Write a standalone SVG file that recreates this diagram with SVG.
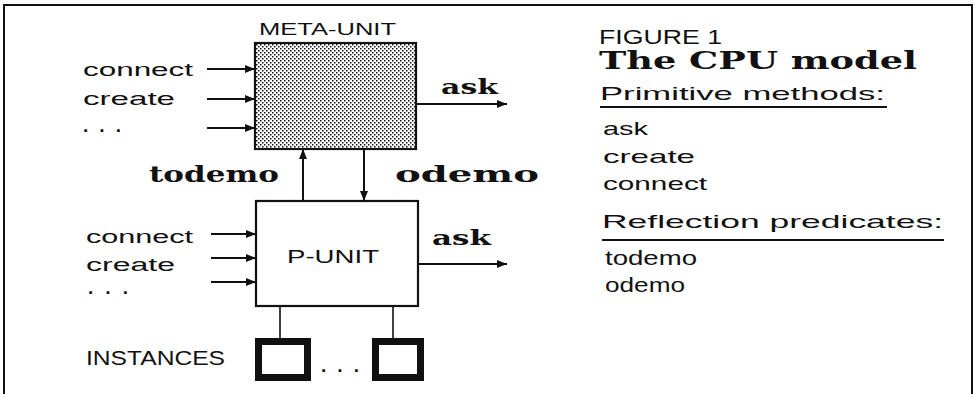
<svg xmlns="http://www.w3.org/2000/svg" width="975" height="394" viewBox="0 0 975 394">
<defs>
  <pattern id="hatch" width="4" height="4" patternUnits="userSpaceOnUse">
    <rect width="4" height="4" fill="#fff"/>
    <rect x="0" y="0" width="1.5" height="1.5" fill="#111"/>
    <rect x="2" y="2" width="1.5" height="1.5" fill="#111"/>
  </pattern>
  <marker id="ah" viewBox="0 0 10 8" refX="10" refY="4" markerWidth="10" markerHeight="8" markerUnits="userSpaceOnUse" orient="auto">
    <path d="M0,0 L10,4 L0,8 z" fill="#111"/>
  </marker>
  <style>
    .frame{stroke:#111;stroke-width:2;fill:none}
    .box{stroke:#111;stroke-width:2.2}
    .inst{stroke:#111;stroke-width:7;fill:#fff}
    .line{stroke:#111;stroke-width:2;fill:none}
    .thin{stroke:#111;stroke-width:1.6;fill:none}
    .arr{stroke:#111;stroke-width:2;fill:none;marker-end:url(#ah)}
    .sans{font-family:"Liberation Sans","DejaVu Sans",sans-serif;fill:#111}
    .dots{font-family:"Liberation Sans","DejaVu Sans",sans-serif;font-weight:bold;fill:#111}
    .bold{font-family:"DejaVu Serif","Liberation Serif",serif;font-weight:bold;fill:#111}
  </style>
</defs>

<g id="frame">
  <path class="frame" d="M4,394 V5 H972 V394"/>
</g>

<g id="meta-unit">
  <rect class="box" x="255" y="43" width="161" height="106" fill="url(#hatch)"/>
  <text class="sans" x="259" y="35" font-size="17" textLength="137" lengthAdjust="spacingAndGlyphs">META-UNIT</text>
</g>

<g id="meta-inputs">
  <text class="sans" x="83" y="76" font-size="18" textLength="110" lengthAdjust="spacingAndGlyphs">connect</text>
  <text class="sans" x="83" y="105" font-size="18" textLength="92" lengthAdjust="spacingAndGlyphs">create</text>
  <text class="dots" x="83" y="132" font-size="19" textLength="38" lengthAdjust="spacing">...</text>
</g>

<g id="meta-ask">
  <text class="bold" x="441" y="94" font-size="21" textLength="57" lengthAdjust="spacingAndGlyphs">ask</text>
</g>

<g id="p-unit">
  <rect class="box" x="256" y="201" width="162" height="105" fill="#fff"/>
  <text class="sans" x="287" y="263" font-size="19" textLength="92" lengthAdjust="spacingAndGlyphs">P-UNIT</text>
</g>

<g id="p-inputs">
  <text class="sans" x="86" y="243" font-size="18" textLength="107" lengthAdjust="spacingAndGlyphs">connect</text>
  <text class="sans" x="86" y="271" font-size="18" textLength="89" lengthAdjust="spacingAndGlyphs">create</text>
  <text class="dots" x="88" y="294" font-size="19" textLength="40" lengthAdjust="spacing">...</text>
</g>

<g id="p-ask">
  <text class="bold" x="432" y="245" font-size="21" textLength="59" lengthAdjust="spacingAndGlyphs">ask</text>
</g>

<g id="todemo-label">
  <text class="bold" x="149" y="182" font-size="23" textLength="130" lengthAdjust="spacingAndGlyphs">todemo</text>
</g>
<g id="odemo-label">
  <text class="bold" x="395" y="182" font-size="23" textLength="144" lengthAdjust="spacingAndGlyphs">odemo</text>
</g>

<g id="instances">
  <text class="sans" x="86" y="365" font-size="20" textLength="139" lengthAdjust="spacingAndGlyphs">INSTANCES</text>
  <rect class="inst" x="258.5" y="341.5" width="49" height="36"/>
  <text class="dots" x="321" y="372" font-size="19" textLength="38" lengthAdjust="spacing">...</text>
  <rect class="inst" x="375.5" y="341.5" width="45" height="36"/>
</g>

<g id="connectors">
  <line class="arr" x1="207" y1="69" x2="255" y2="69"/>
  <line class="arr" x1="207" y1="99" x2="255" y2="99"/>
  <line class="arr" x1="207" y1="128" x2="255" y2="128"/>
  <line class="arr" x1="416" y1="104" x2="507" y2="104"/>
  <line class="arr" x1="303" y1="201" x2="303" y2="149"/>
  <line class="arr" x1="364" y1="149" x2="364" y2="201"/>
  <line class="arr" x1="211" y1="234" x2="256" y2="234"/>
  <line class="arr" x1="211" y1="258" x2="256" y2="258"/>
  <line class="arr" x1="211" y1="282" x2="256" y2="282"/>
  <line class="arr" x1="418" y1="264" x2="507" y2="264"/>
  <line class="thin" x1="280" y1="306" x2="280" y2="338"/>
  <line class="thin" x1="393" y1="306" x2="393" y2="338"/>
</g>

<g id="caption">
  <text class="sans" x="599" y="44" font-size="21" textLength="123" lengthAdjust="spacingAndGlyphs">FIGURE 1</text>
  <text class="bold" x="599" y="69" font-size="25" textLength="318" lengthAdjust="spacingAndGlyphs">The CPU model</text>
  <text class="sans" x="600" y="100" font-size="19" textLength="285" lengthAdjust="spacingAndGlyphs">Primitive methods:</text>
  <line class="line" x1="600" y1="107" x2="887" y2="107"/>
  <text class="sans" x="603" y="135" font-size="19" textLength="45" lengthAdjust="spacingAndGlyphs">ask</text>
  <text class="sans" x="603" y="163" font-size="19" textLength="92" lengthAdjust="spacingAndGlyphs">create</text>
  <text class="sans" x="603" y="190" font-size="19" textLength="104" lengthAdjust="spacingAndGlyphs">connect</text>
  <text class="sans" x="602" y="228" font-size="19" textLength="341" lengthAdjust="spacingAndGlyphs">Reflection predicates:</text>
  <line class="line" x1="602" y1="240" x2="944" y2="240"/>
  <text class="sans" x="605" y="265" font-size="20" textLength="92" lengthAdjust="spacingAndGlyphs">todemo</text>
  <text class="sans" x="605" y="292" font-size="20" textLength="80" lengthAdjust="spacingAndGlyphs">odemo</text>
</g>
</svg>
